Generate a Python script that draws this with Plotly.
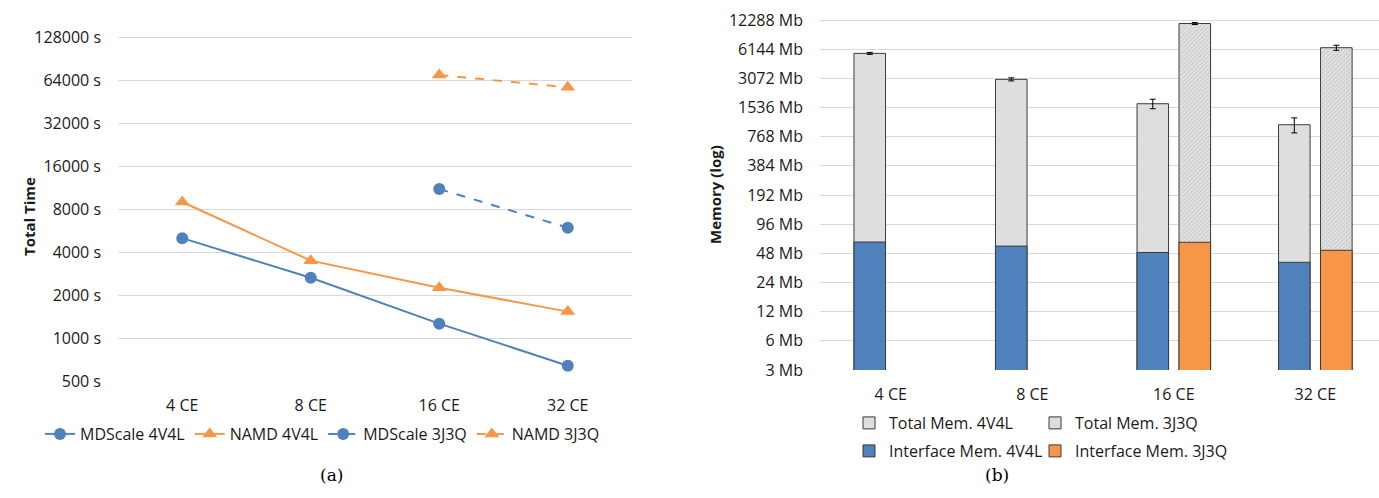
import math
import plotly.graph_objects as go

# ---- data -------------------------------------------------------------
ce = ["4 CE", "8 CE", "16 CE", "32 CE"]

# total run time (seconds)
mdscale_4v4l = [5000, 2640, 1260, 640]
namd_4v4l = [8960, 3480, 2250, 1530]
mdscale_3j3q = [None, None, 11040, 5920]
namd_3j3q = [None, None, 69400, 56900]

time_ticks = [500, 1000, 2000, 4000, 8000, 16000, 32000, 64000, 128000]
time_labels = [f"{v} s" for v in time_ticks]

# memory (Mb)
total_4v4l = [5560, 3000, 1680, 1020]
total_4v4l_err = [130, 110, 190, 180]
total_3j3q = [None, None, 11300, 6360]
total_3j3q_err = [None, None, 270, 380]
iface_4v4l = [62.8, 57, 49, 38.8]
iface_3j3q = [None, None, 62.4, 51.6]

mem_ticks = [3, 6, 12, 24, 48, 96, 192, 384, 768, 1536, 3072, 6144, 12288]
mem_labels = [f"{v} Mb" for v in mem_ticks]

# ---- style ------------------------------------------------------------
W, H = 1379, 498
BLUE = "#4F81BD"
ORANGE = "#F79646"
GRID = "#d9d9d9"
FONT = "Open Sans"
TXT = "#1a1a1a"


def px_x(p):
    return p / W


def px_y(p):
    return 1 - p / H


fig = go.Figure()

# ---- (a) total time ---------------------------------------------------
line_series = [
    ("MDScale 4V4L", mdscale_4v4l, BLUE, "circle", "solid"),
    ("NAMD 4V4L", namd_4v4l, ORANGE, "triangle-up", "solid"),
    ("MDScale 3J3Q", mdscale_3j3q, BLUE, "circle", "dash"),
    ("NAMD 3J3Q", namd_3j3q, ORANGE, "triangle-up", "dash"),
]
for name, vals, col, sym, dash in line_series:
    fig.add_trace(go.Scatter(
        x=ce, y=vals, name=name, mode="lines+markers",
        line=dict(color=col, width=2, dash=dash),
        marker=dict(color=col, symbol=sym, size=12 if sym == "circle" else 13),
        xaxis="x", yaxis="y", legend="legend",
    ))

# ---- (b) memory -------------------------------------------------------
BW = 0.223
OFF_L = -0.26
OFF_R = 0.037
EDGE = dict(color="#3a3a3a", width=1)

fig.add_trace(go.Bar(
    x=ce, y=total_4v4l, name="Total Mem. 4V4L",
    width=BW, offset=OFF_L,
    marker=dict(color="#dedede", line=EDGE),
    error_y=dict(type="data", array=total_4v4l_err, color="black", thickness=1, width=3),
    xaxis="x2", yaxis="y2", legend="legend2",
))
fig.add_trace(go.Bar(
    x=ce, y=total_3j3q, name="Total Mem. 3J3Q",
    width=BW, offset=OFF_R,
    marker=dict(color="#e2e2e2", line=EDGE,
                pattern=dict(shape="/", size=3, solidity=0.3,
                             fgcolor="#a8a8a8", bgcolor="#e2e2e2", fillmode="overlay")),
    error_y=dict(type="data", array=total_3j3q_err, color="black", thickness=1, width=3),
    xaxis="x2", yaxis="y2", legend="legend3",
))
fig.add_trace(go.Bar(
    x=ce, y=iface_4v4l, name="Interface Mem. 4V4L",
    width=BW, offset=OFF_L,
    marker=dict(color=BLUE, line=EDGE),
    xaxis="x2", yaxis="y2", legend="legend4",
))
fig.add_trace(go.Bar(
    x=ce, y=iface_3j3q, name="Interface Mem. 3J3Q",
    width=BW, offset=OFF_R,
    marker=dict(color=ORANGE, line=EDGE),
    xaxis="x2", yaxis="y2", legend="legend5",
))

# ---- axes ---------------------------------------------------------------
oct_a = math.log10(2) / 43.0      # log10 units per pixel, time axis
oct_b = math.log10(2) / 29.17     # log10 units per pixel, memory axis

axis_font = dict(family=FONT, size=16, color=TXT)
legend_font = dict(family=FONT, size=16, color=TXT)


def bar_legend(x, y):
    return dict(orientation="h", x=px_x(x), y=px_y(y), xanchor="left", yanchor="middle",
                font=legend_font, bgcolor="rgba(0,0,0,0)")


fig.update_layout(
    width=W, height=H,
    margin=dict(l=0, r=0, t=0, b=0, autoexpand=False),
    paper_bgcolor="white", plot_bgcolor="white",
    barmode="overlay",
    font=dict(family=FONT, size=16, color=TXT),
    xaxis=dict(
        domain=[px_x(118), px_x(632)], type="category", range=[-0.5, 3.5],
        showgrid=False, showline=False, zeroline=False, ticks="",
        tickfont=axis_font, ticklabelstandoff=13, anchor="y", automargin=False,
    ),
    yaxis=dict(
        domain=[px_y(381), px_y(16)], type="log",
        range=[math.log10(500), math.log10(128000) + 21 * oct_a],
        tickvals=time_ticks, ticktext=time_labels,
        showgrid=True, gridcolor=GRID, gridwidth=1,
        showline=False, zeroline=False, ticks="",
        tickfont=axis_font, ticklabelstandoff=16, anchor="x", automargin=False,
    ),
    xaxis2=dict(
        domain=[px_x(820), 1.0], type="category",
        range=[-0.5, 3.45],
        showgrid=False, showline=False, zeroline=False, ticks="",
        tickfont=axis_font, ticklabelstandoff=13, anchor="y2", automargin=False,
    ),
    yaxis2=dict(
        domain=[px_y(370), px_y(12)], type="log",
        range=[math.log10(3), math.log10(12288) + 8 * oct_b],
        tickvals=mem_ticks, ticktext=mem_labels,
        showgrid=True, gridcolor=GRID, gridwidth=1,
        showline=False, zeroline=False, ticks="",
        tickfont=axis_font, ticklabelstandoff=16, anchor="x2", automargin=False,
    ),
    legend=dict(
        orientation="h", x=px_x(40), y=px_y(434), xanchor="left", yanchor="middle",
        font=legend_font, bgcolor="rgba(0,0,0,0)",
    ),
    legend2=bar_legend(849, 423),
    legend3=bar_legend(1035, 423),
    legend4=bar_legend(849, 451),
    legend5=bar_legend(1035, 451),
    annotations=[
        dict(text="<b>Total Time</b>", x=px_x(17), y=px_y(217), xref="paper", yref="paper",
             textangle=-90, showarrow=False, font=dict(family=FONT, size=15, color=TXT)),
        dict(text="<b>Memory (log)</b>", x=px_x(715), y=px_y(194), xref="paper", yref="paper",
             textangle=-90, showarrow=False, font=dict(family=FONT, size=15, color=TXT)),
        dict(text="(a)", x=px_x(318), y=px_y(487), xref="paper", yref="paper",
             showarrow=False, font=dict(family="DejaVu Serif", size=17, color="black")),
        dict(text="(b)", x=px_x(1011), y=px_y(487), xref="paper", yref="paper",
             showarrow=False, font=dict(family="DejaVu Serif", size=17, color="black")),
    ],
)

fig.write_html("out.html")
